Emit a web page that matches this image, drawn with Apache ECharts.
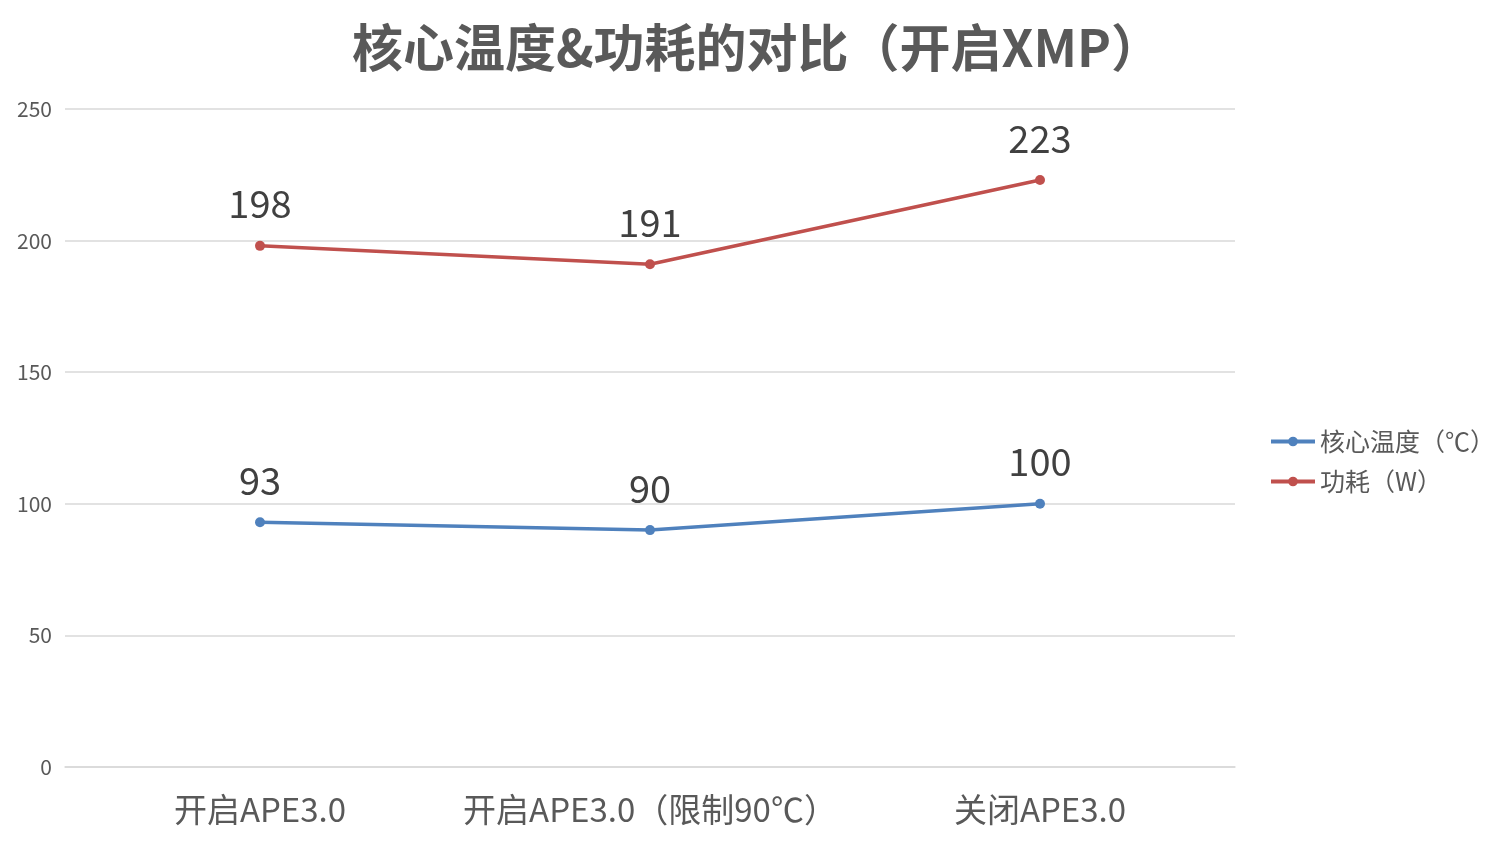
<!DOCTYPE html>
<html>
<head>
<meta charset="utf-8">
<script src="https://cdn.jsdelivr.net/npm/echarts@6/dist/echarts.min.js"></script>
<style>
  html, body { margin: 0; padding: 0; background: #fff; }
  #main { width: 1512px; height: 852px; }
</style>
</head>
<body>
<div id="main"></div>
<script>
var categories = ['开启APE3.0', '开启APE3.0（限制90℃）', '关闭APE3.0'];
var tempValues = [93, 90, 100];
var powerValues = [198, 191, 223];
var seriesNames = ['核心温度（℃）', '功耗（W）'];

var myChart = echarts.init(document.getElementById('main'));
var font = '"Noto Sans CJK SC", "Noto Sans", sans-serif';

var option = {
    backgroundColor: '#fff',
    animation: false,
    title: {
        text: '核心温度&功耗的对比（开启XMP）',
        left: 752,
        textAlign: 'center',
        top: 17,
        textStyle: { fontSize: 51, fontWeight: 'bold', color: '#595959', fontFamily: font }
    },
    legend: {
        orient: 'vertical',
        left: 1264,
        top: 424,
        itemWidth: 44,
        itemHeight: 12,
        itemGap: 15,
        lineStyle: { width: 4 },
        textStyle: { fontSize: 25, color: '#595959', fontFamily: font },
        data: seriesNames
    },
    grid: { left: 65, right: 277, top: 109, bottom: 85, containLabel: false },
    xAxis: {
        type: 'category',
        data: categories,
        axisLine: { lineStyle: { color: '#d9d9d9', width: 1.5 } },
        axisTick: { show: false },
        axisLabel: { fontSize: 33, color: '#595959', margin: 26, interval: 0, fontFamily: font }
    },
    yAxis: {
        type: 'value',
        min: 0,
        max: 250,
        interval: 50,
        axisLine: { show: false },
        axisTick: { show: false },
        splitLine: { lineStyle: { color: '#d9d9d9', width: 1.5 } },
        axisLabel: { fontSize: 21, color: '#595959', margin: 13, fontFamily: font }
    },
    series: [
        {
            name: seriesNames[0],
            type: 'line',
            data: tempValues,
            color: '#4F81BD',
            symbol: 'circle',
            symbolSize: 10,
            lineStyle: { width: 3.5 },
            label: { show: true, position: 'top', distance: 18, fontSize: 38, color: '#404040', fontFamily: font }
        },
        {
            name: seriesNames[1],
            type: 'line',
            data: powerValues,
            color: '#C0504D',
            symbol: 'circle',
            symbolSize: 10,
            lineStyle: { width: 3.5 },
            label: { show: true, position: 'top', distance: 18, fontSize: 38, color: '#404040', fontFamily: font }
        }
    ]
};
myChart.setOption(option);
</script>
</body>
</html>
